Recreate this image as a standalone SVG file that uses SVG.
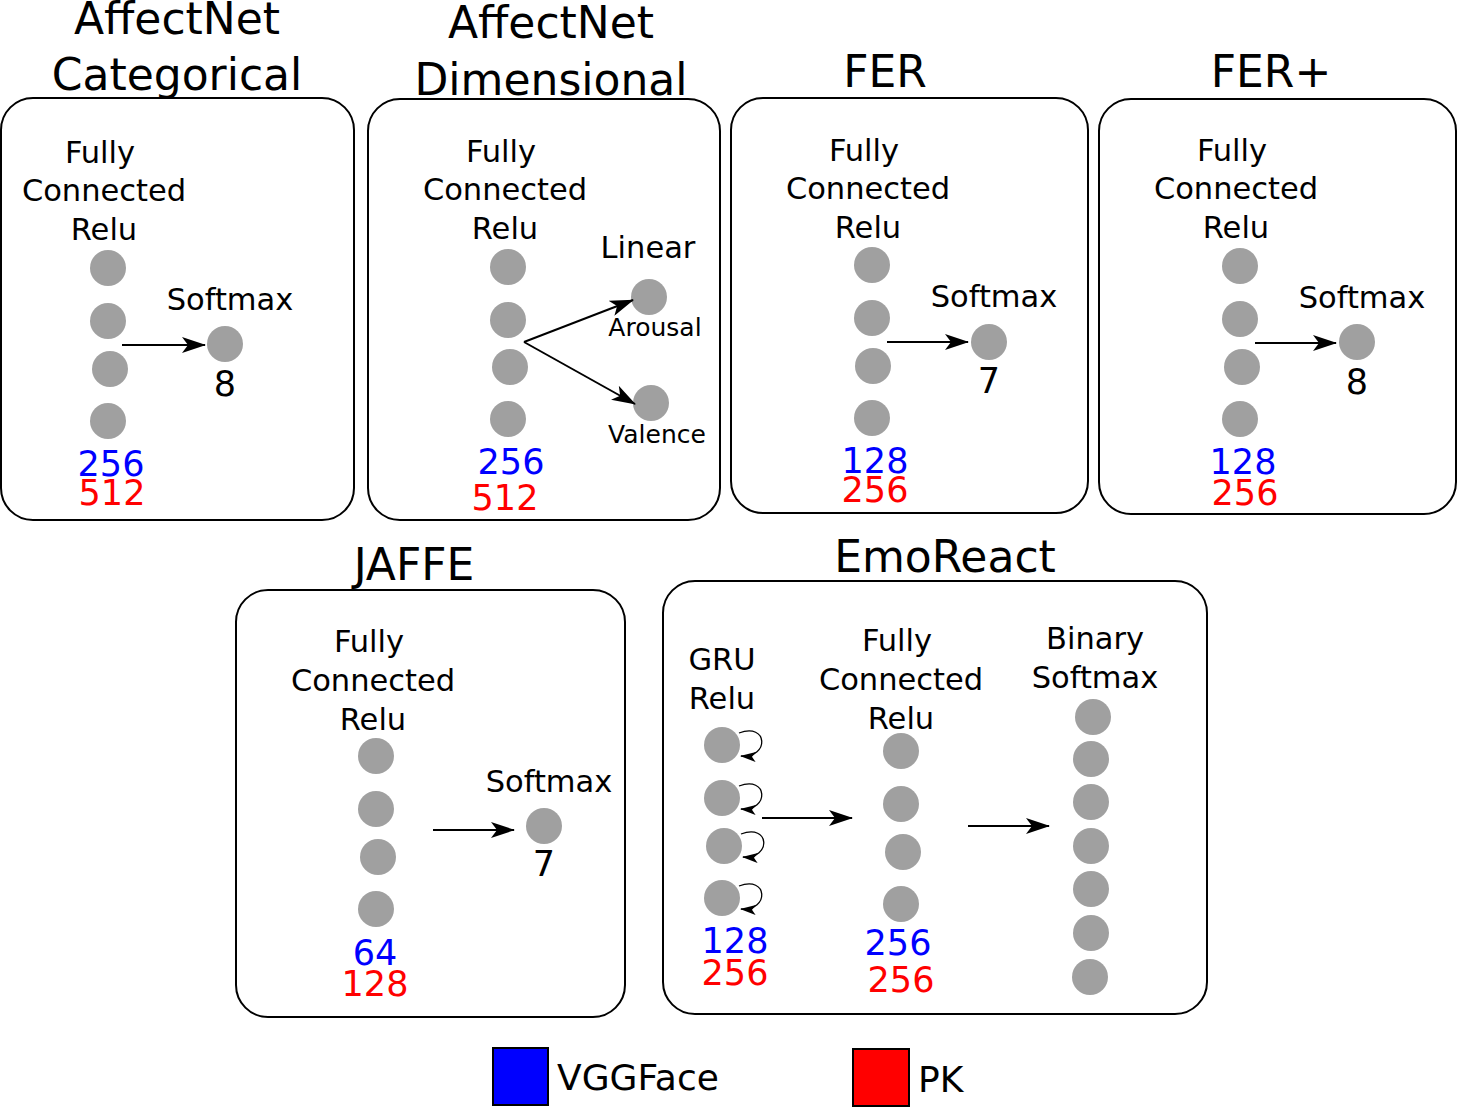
<svg xmlns="http://www.w3.org/2000/svg" width="1458" height="1108" viewBox="0 0 1458 1108">
<style>
text{font-family:"DejaVu Sans","Noto Sans",sans-serif;text-anchor:middle;fill:#000}
.t{font-size:44px}.l{font-size:30.5px}.n{font-size:35px}.s{font-size:25px}
.b{fill:#0000ff}.r{fill:#ff0000}
.box{fill:#fff;stroke:#000;stroke-width:2}
circle{fill:#a0a0a0}
.a{stroke:#000;stroke-width:2;fill:none;marker-end:url(#ah)}
.lp{stroke:#000;stroke-width:1.3;fill:none;marker-end:url(#sh)}
</style>
<defs>
<marker id="ah" markerWidth="24" markerHeight="16" refX="23" refY="8" orient="auto" markerUnits="userSpaceOnUse"><path d="M0,0 L24,8 L0,16 L6,8 Z" fill="#000"/></marker>
<marker id="sh" markerWidth="16" markerHeight="10" refX="15" refY="5" orient="auto" markerUnits="userSpaceOnUse"><path d="M0,0 L16,5 L0,10 L4,5 Z" fill="#000"/></marker>
</defs>
<rect width="1458" height="1108" fill="#fff"/>
<g id="affectnet-cat">
<rect class="box" x="1" y="98" width="353" height="422" rx="32"/>
<text class="t" x="177" y="34">AffectNet</text><text class="t" x="177" y="90">Categorical</text>
<text class="l" x="100" y="163">Fully</text><text class="l" x="104" y="201">Connected</text><text class="l" x="104" y="240">Relu</text>
<circle cx="108" cy="268" r="18"/><circle cx="108" cy="321" r="18"/><circle cx="110" cy="369" r="18"/><circle cx="108" cy="421" r="18"/>
<text class="l" x="230" y="310">Softmax</text><circle cx="225" cy="344" r="18"/><text class="n" x="225" y="396">8</text>
<text class="n b" x="111" y="476">256</text><text class="n r" x="112" y="505">512</text>
</g>
<g id="affectnet-dim">
<rect class="box" x="368" y="99" width="352" height="421" rx="32"/>
<text class="t" x="551" y="38">AffectNet</text><text class="t" x="551" y="95">Dimensional</text>
<text class="l" x="501" y="162">Fully</text><text class="l" x="505" y="200">Connected</text><text class="l" x="505" y="239">Relu</text>
<circle cx="508" cy="267" r="18"/><circle cx="508" cy="320" r="18"/><circle cx="510" cy="367" r="18"/><circle cx="508" cy="419" r="18"/>
<text class="l" x="648" y="258">Linear</text>
<circle cx="649" cy="297" r="18"/><circle cx="651" cy="403" r="18"/>
<text class="s" x="655" y="336">Arousal</text><text class="s" x="657" y="443">Valence</text>
<text class="n b" x="511" y="474">256</text><text class="n r" x="505" y="510">512</text>
</g>
<g id="fer">
<rect class="box" x="731" y="98" width="357" height="415" rx="32"/>
<text class="t" x="885" y="87">FER</text>
<text class="l" x="864" y="161">Fully</text><text class="l" x="868" y="199">Connected</text><text class="l" x="868" y="238">Relu</text>
<circle cx="872" cy="265" r="18"/><circle cx="872" cy="318" r="18"/><circle cx="873" cy="366" r="18"/><circle cx="872" cy="418" r="18"/>
<text class="l" x="994" y="307">Softmax</text><circle cx="989" cy="342" r="18"/><text class="n" x="989" y="393">7</text>
<text class="n b" x="875" y="473">128</text><text class="n r" x="875" y="502">256</text>
</g>
<g id="ferplus">
<rect class="box" x="1099" y="99" width="357" height="415" rx="32"/>
<text class="t" x="1271" y="87">FER+</text>
<text class="l" x="1232" y="161">Fully</text><text class="l" x="1236" y="199">Connected</text><text class="l" x="1236" y="238">Relu</text>
<circle cx="1240" cy="266" r="18"/><circle cx="1240" cy="319" r="18"/><circle cx="1242" cy="367" r="18"/><circle cx="1240" cy="419" r="18"/>
<text class="l" x="1362" y="308">Softmax</text><circle cx="1357" cy="342" r="18"/><text class="n" x="1357" y="394">8</text>
<text class="n b" x="1243" y="474">128</text><text class="n r" x="1245" y="505">256</text>
</g>
<g id="jaffe">
<rect class="box" x="236" y="590" width="389" height="427" rx="32"/>
<text class="t" x="414" y="580">JAFFE</text>
<text class="l" x="369" y="652">Fully</text><text class="l" x="373" y="691">Connected</text><text class="l" x="373" y="730">Relu</text>
<circle cx="376" cy="756" r="18"/><circle cx="376" cy="809" r="18"/><circle cx="378" cy="857" r="18"/><circle cx="376" cy="909" r="18"/>
<text class="l" x="549" y="792">Softmax</text><circle cx="544" cy="826" r="18"/><text class="n" x="544" y="876">7</text>
<text class="n b" x="375" y="965">64</text><text class="n r" x="375" y="996">128</text>
</g>
<g id="emoreact">
<rect class="box" x="663" y="581" width="544" height="433" rx="32"/>
<text class="t" x="945" y="572">EmoReact</text>
<text class="l" x="722" y="670">GRU</text><text class="l" x="722" y="709">Relu</text>
<circle cx="722" cy="745" r="18"/><circle cx="722" cy="798" r="18"/><circle cx="724" cy="846" r="18"/><circle cx="722" cy="898" r="18"/>
<text class="n b" x="735" y="953">128</text><text class="n r" x="735" y="985">256</text>
<text class="l" x="897" y="651">Fully</text><text class="l" x="901" y="690">Connected</text><text class="l" x="901" y="729">Relu</text>
<circle cx="901" cy="751" r="18"/><circle cx="901" cy="804" r="18"/><circle cx="903" cy="852" r="18"/><circle cx="901" cy="904" r="18"/>
<text class="n b" x="898" y="955">256</text><text class="n r" x="901" y="992">256</text>
<text class="l" x="1095" y="649">Binary</text><text class="l" x="1095" y="688">Softmax</text>
<circle cx="1093" cy="717" r="18"/><circle cx="1091" cy="759" r="18"/><circle cx="1091" cy="802" r="18"/><circle cx="1091" cy="846" r="18"/><circle cx="1091" cy="889" r="18"/><circle cx="1091" cy="933" r="18"/><circle cx="1090" cy="977" r="18"/>
</g>
<g id="connectors">
<line class="a" x1="122" y1="345" x2="205" y2="345"/>
<line class="a" x1="524" y1="342" x2="633" y2="300"/>
<line class="a" x1="524" y1="342" x2="635" y2="404"/>
<line class="a" x1="887" y1="342" x2="968" y2="342"/>
<line class="a" x1="1255" y1="343" x2="1336" y2="343"/>
<line class="a" x1="433" y1="830" x2="514" y2="830"/>
<line class="a" x1="762" y1="818" x2="852" y2="818"/>
<line class="a" x1="968" y1="826" x2="1049" y2="826"/>
<path class="lp" d="M739,733 C768,722 770,758 741,756"/>
<path class="lp" d="M739,786 C768,775 770,811 741,809"/>
<path class="lp" d="M741,834 C770,823 772,859 743,857"/>
<path class="lp" d="M739,886 C768,875 770,911 741,909"/>
</g>
<g id="legend">
<rect x="493" y="1048" width="55" height="57" fill="#0000ff" stroke="#000" stroke-width="2"/>
<text x="557" y="1090" style="font-size:36px;text-anchor:start">VGGFace</text>
<rect x="853" y="1049" width="56" height="57" fill="#ff0000" stroke="#000" stroke-width="2"/>
<text x="918" y="1092" style="font-size:36px;text-anchor:start">PK</text>
</g>
</svg>
